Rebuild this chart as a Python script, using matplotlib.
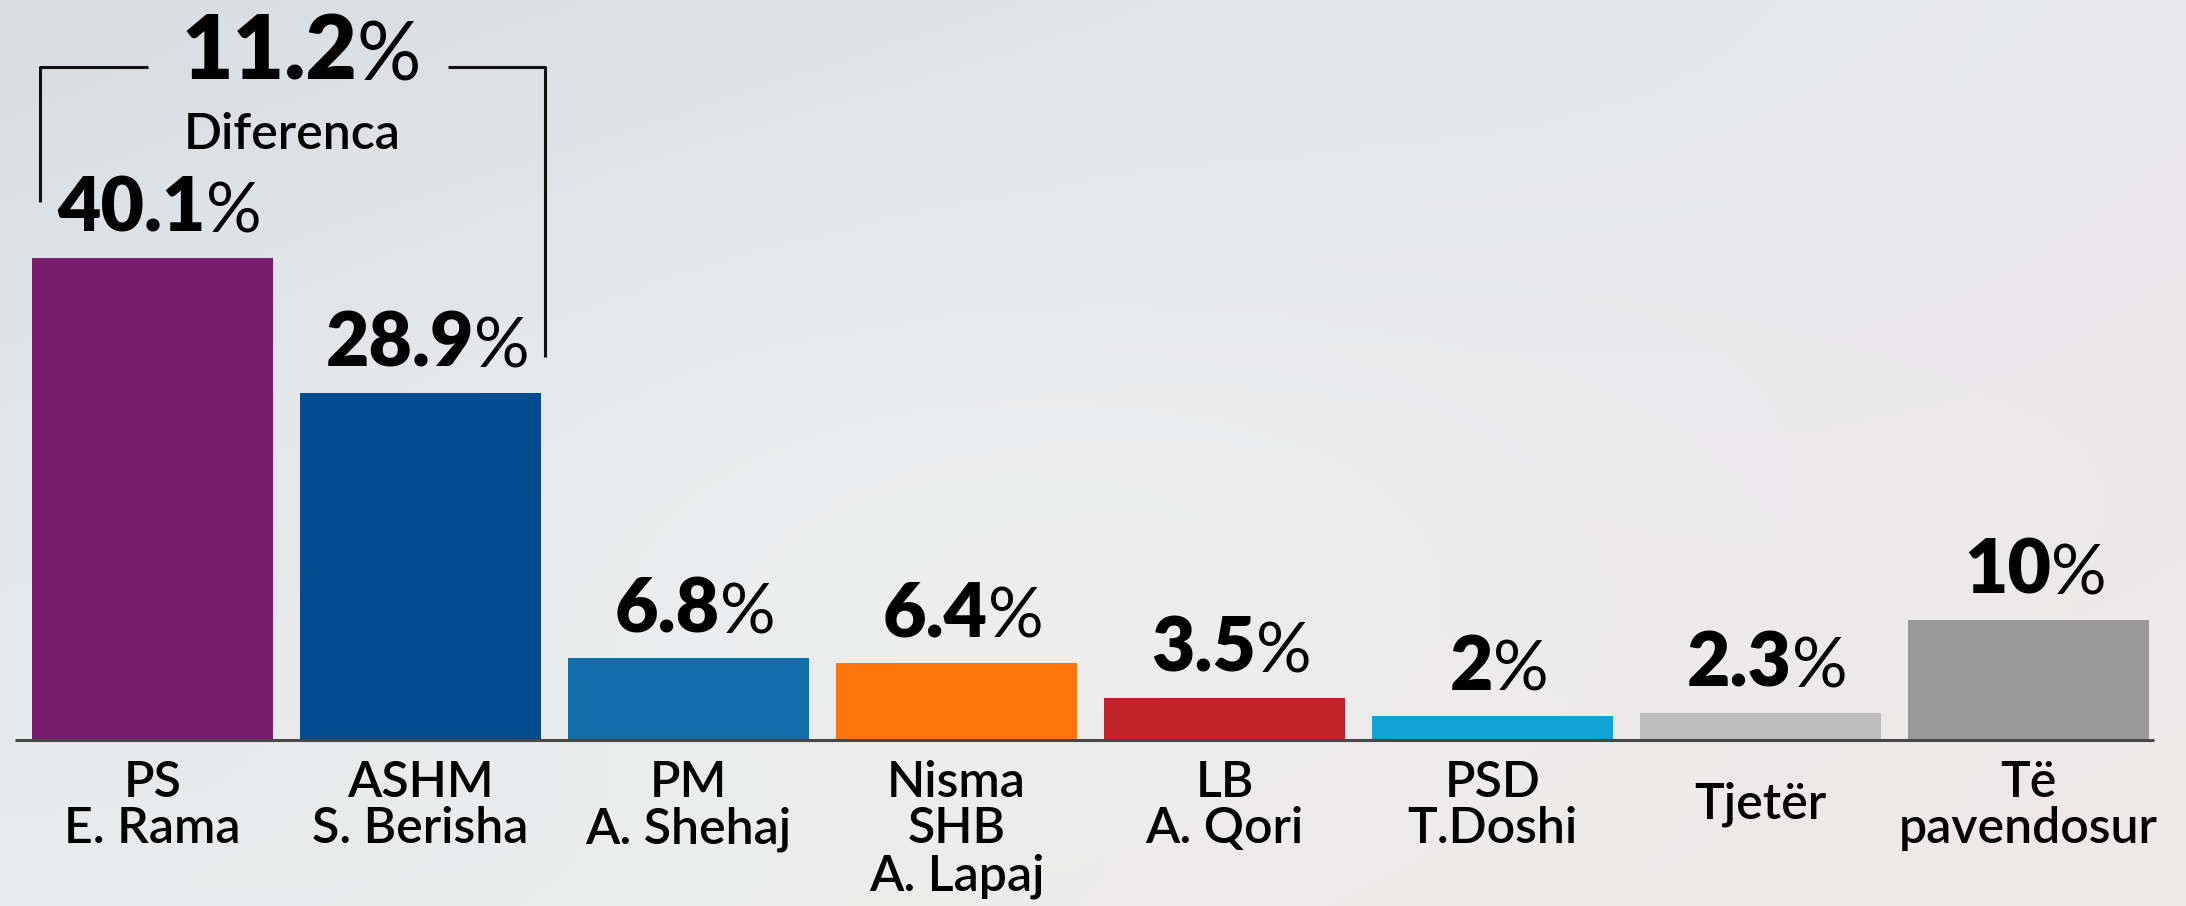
import numpy as np
import matplotlib.pyplot as plt
from matplotlib.colors import to_rgb

# poll results (percent)
parties = ['PS\nE. Rama', 'ASHM\nS. Berisha', 'PM\nA. Shehaj', 'Nisma\nSHB\nA. Lapaj',
           'LB\nA. Qori', 'PSD\nT.Doshi', 'Tjetër', 'Të\npavendosur']
values = [40.1, 28.9, 6.8, 6.4, 3.5, 2.0, 2.3, 10.0]
value_labels = ['40.1', '28.9', '6.8', '6.4', '3.5', '2', '2.3', '10']
colors = ['#781c6e', '#024b8f', '#126da8', '#fe7510', '#c0232a', '#11a3d8', '#bebebe', '#999999']
gap_label = '11.2'
gap_text = 'Diferenca'

FONT = ['Lato', 'DejaVu Sans']

fig = plt.figure(figsize=(21.86, 9.06), dpi=100)

# background gradient
bg = fig.add_axes([0, 0, 1, 1], zorder=0)
h, w = 200, 480
yy, xx = np.mgrid[0:1:h * 1j, 0:1:w * 1j]
tl, tr = np.array(to_rgb('#d6dde3')), np.array(to_rgb('#e9e9ec'))
bl, br = np.array(to_rgb('#e8ecec')), np.array(to_rgb('#efe8e8'))
img = ((1 - xx)[..., None] * (1 - yy)[..., None] * tl + xx[..., None] * (1 - yy)[..., None] * tr
       + (1 - xx)[..., None] * yy[..., None] * bl + xx[..., None] * yy[..., None] * br)
glow = np.exp(-(((xx - 0.45) / 0.35) ** 2 + ((yy - 0.6) / 0.4) ** 2))[..., None]
img = img * (1 - 0.5 * glow) + 0.5 * glow * np.array(to_rgb('#f4f4f3'))
bg.imshow(img, aspect='auto', extent=(0, 1, 0, 1), origin='upper')
bg.set_xlim(0, 1)
bg.set_ylim(0, 1)
bg.axis('off')

ax = fig.add_axes([0, 0, 1, 1], zorder=1)
ax.patch.set_alpha(0)
x = np.arange(len(values))
ax.bar(x, values, width=0.9, color=colors, zorder=2)
ax.hlines(0, -0.513, 7.47, color='#474747', lw=2.2, zorder=3)
ax.set_xlim(-0.569, 7.588)
ax.set_ylim(-13.8, 61.6)
ax.axis('off')

# value labels
for i, (v, lab) in enumerate(zip(values, value_labels)):
    t = ax.annotate(lab, (i, v), xytext=(-15, 19), textcoords='offset points',
                    ha='center', va='baseline', fontsize=54, fontweight='heavy',
                    family=FONT)
    ax.annotate('%', xy=(1, 0), xycoords=t, xytext=(0, 0), textcoords='offset points',
                ha='left', va='bottom', fontsize=50, family=FONT)

# category labels
for i, name in enumerate(parties):
    if '\n' in name:
        ax.annotate(name, (i, 0), xytext=(0, -14), textcoords='offset points',
                    ha='center', va='top', fontsize=36, linespacing=1.05,
                    fontweight='semibold', family=FONT)
    else:
        ax.annotate(name, (i, 0), xytext=(0, -46), textcoords='offset points',
                    ha='center', va='center', fontsize=36, fontweight='semibold',
                    family=FONT)

# difference bracket between the two leading parties
top = 56.0
left_x, right_x = x[0] - 0.42, x[1] + 0.465
ax.plot([left_x, left_x, x[0] - 0.017], [values[0] + 4.7, top, top],
        color='#111111', lw=2.2, solid_capstyle='butt')
ax.plot([x[1] + 0.103, right_x, right_x], [top, top, values[1] + 3.0],
        color='#111111', lw=2.2, solid_capstyle='butt')
mid = (left_x + right_x) / 2
t = ax.annotate(gap_label, (mid, 55.0), xytext=(-17, 0), textcoords='offset points',
                ha='center', va='baseline', fontsize=64, fontweight='heavy', family=FONT)
ax.annotate('%', xy=(1, 0), xycoords=t, xytext=(0, 0), textcoords='offset points',
            ha='left', va='bottom', fontsize=58, family=FONT)
ax.text(mid, 49.2, gap_text, ha='center', va='baseline', fontsize=36,
        fontweight='semibold', family=FONT)

fig.savefig('out.png', dpi=100)
